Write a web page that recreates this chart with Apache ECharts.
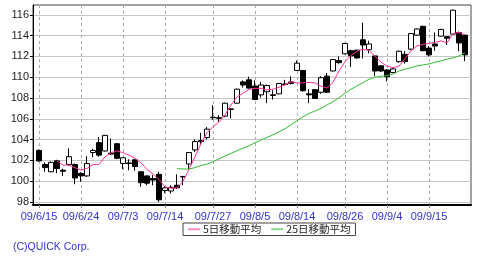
<!DOCTYPE html>
<html>
<head>
<meta charset="utf-8">
<script src="https://cdn.jsdelivr.net/npm/echarts@6/dist/echarts.min.js"></script>
<style>html,body{margin:0;padding:0;background:#fff}#c{width:480px;height:261px}</style>
</head>
<body>
<div id="c"></div>
<script>
const dates = ['09/6/15','09/6/16','09/6/17','09/6/18','09/6/19','09/6/22','09/6/23','09/6/24','09/6/25','09/6/26','09/6/29','09/6/30',
'09/7/1','09/7/2','09/7/3','09/7/6','09/7/7','09/7/8','09/7/9','09/7/10','09/7/13','09/7/14','09/7/15','09/7/16','09/7/17','09/7/21','09/7/22','09/7/23','09/7/24','09/7/27','09/7/28','09/7/29','09/7/30','09/7/31',
'09/8/3','09/8/4','09/8/5','09/8/6','09/8/7','09/8/10','09/8/11','09/8/12','09/8/13','09/8/14','09/8/17','09/8/18','09/8/19','09/8/20','09/8/21','09/8/24','09/8/25','09/8/26','09/8/27','09/8/28','09/8/31',
'09/9/1','09/9/2','09/9/3','09/9/4','09/9/7','09/9/8','09/9/9','09/9/10','09/9/11','09/9/14','09/9/15','09/9/16','09/9/17','09/9/18','09/9/24','09/9/25','09/9/28'];
const openV  = [102.95,101.6,100.9,101.95,101.05,101.6,101.6,100.75,100.5,102.75,103.7,102.9,102.7,103.6,101.7,101.75,102.05,100.9,100.5,100.25,100.65,99.1,99.05,99.6,100.45,101.65,103.0,103.9,104.2,106.15,106.1,106.25,106.95,107.5,109.55,109.75,109.15,108.3,108.6,108.3,108.4,109.35,109.55,110.65,110.65,108.4,108.8,108.55,110.1,110.6,111.6,112.25,112.55,112.6,113.6,112.65,112.05,111.1,110.7,110.45,111.5,112.2,112.7,114.05,114.9,112.8,113.2,113.95,113.9,114.15,114.3,114.05];
const closeV = [101.95,101.3,101.8,101.2,100.95,102.35,100.3,100.5,101.7,102.95,102.5,104.4,102.6,102.2,102.25,101.7,101.4,99.85,99.8,100.1,98.2,99.35,99.4,99.35,100.4,102.75,103.8,103.8,105.0,106.1,106.05,107.5,106.9,108.85,109.25,108.95,107.85,109.25,109.2,108.25,109.4,109.3,109.4,111.35,108.7,108.3,107.95,109.95,108.55,111.7,111.4,113.25,112.05,111.85,113.1,113.2,110.6,110.6,110.05,110.8,112.5,111.5,114.2,114.65,112.55,112.15,113.0,114.6,113.75,116.45,113.3,112.15];
const lowV   = [101.85,100.9,100.85,100.75,100.5,101.5,99.7,99.95,100.4,102.3,102.35,102.85,102.5,102.1,101.15,101.05,101.0,99.45,99.6,99.6,98.0,98.85,98.8,99.25,99.6,101.15,102.8,103.45,104.0,105.9,105.7,106.15,106.05,107.45,109.0,108.9,107.8,108.05,107.5,107.85,108.35,109.2,109.3,110.6,108.6,107.5,107.9,108.4,108.5,110.55,111.3,112.2,111.0,111.8,111.8,112.3,110.1,110.5,109.6,110.4,111.4,111.3,112.6,114.0,112.5,112.0,112.55,113.9,113.1,114.1,112.5,111.55];
const highV  = [103.05,101.8,101.9,102.05,101.2,103.15,101.7,100.85,102.4,103.1,104.25,104.45,104.1,103.65,102.3,102.1,102.1,100.95,100.55,100.6,100.9,99.5,99.6,100.65,100.5,102.8,104.0,104.65,105.2,107.3,106.35,107.55,107.0,108.9,109.7,110.05,109.7,109.55,109.3,108.75,109.45,109.75,110.1,111.6,110.7,108.85,108.85,110.1,110.4,111.75,112.0,113.3,112.65,112.65,115.25,113.5,112.1,111.15,110.75,110.85,112.55,112.5,114.25,114.7,114.95,113.0,114.3,114.65,113.95,116.5,114.4,114.1];
const ma5  = [null,null,null,101.93,101.54,101.54,101.28,101.06,101.22,101.6,101.6,102.34,102.73,102.92,102.73,102.5,102.19,101.75,101.13,100.7,100.15,99.45,99.3,99.35,99.98,101.13,102.34,103.63,104.65,105.23,105.7,106.36,107.33,108.12,108.45,108.84,108.93,108.93,108.77,108.84,109.03,109.25,109.57,109.45,109.45,109.5,109.45,109.15,108.95,109.5,110.6,111.5,112.1,112.5,112.7,112.6,112.0,111.45,111.05,110.92,111.07,111.8,112.55,113.0,113.16,113.25,113.35,113.5,113.3,114.2,114.3,114.1];
const ma25 = [null,null,null,null,null,null,null,null,null,null,null,null,null,null,null,null,null,null,null,null,null,null,null,101.2,101.17,101.15,101.3,101.5,101.64,101.86,102.15,102.41,102.67,102.92,103.18,103.4,103.69,103.95,104.2,104.46,104.75,105.04,105.4,105.8,106.2,106.5,106.75,107.0,107.33,107.64,108.03,108.45,108.84,109.16,109.47,109.8,110.0,110.09,110.15,110.3,110.6,110.76,110.92,111.08,111.18,111.28,111.44,111.57,111.73,111.86,112.05,112.37];
const yTicks = [98,100,102,104,106,108,110,112,114,116];
const xLabels = ['09/6/15','09/6/24','09/7/3','09/7/14','09/7/27','09/8/5','09/8/14','09/8/26','09/9/4','09/9/15'];

const cats = [' '].concat(dates).concat(['  ']);
const candleData = dates.map((d,i)=>[i+1, openV[i], closeV[i], lowV[i], highV[i]]);
const ma5Data = dates.map((d,i)=>[i+1, ma5[i]]).filter(p=>p[1]!=null);
const ma25Data = dates.map((d,i)=>[i+1, ma25[i]]).filter(p=>p[1]!=null);
const showIdx = (idx, val) => xLabels.indexOf(val) >= 0;

const chart = echarts.init(document.getElementById('c'), null, {renderer:'canvas'});
chart.setOption({
  animation: false,
  textStyle: {fontFamily: 'Liberation Sans, Arial, sans-serif'},
  grid: {left: 33, right: 9, top: 5, bottom: 56, show: true, borderColor: '#444', borderWidth: 1},
  xAxis: {
    type: 'category', data: cats, boundaryGap: false,
    axisLine: {lineStyle: {color: '#000', width: 2}},
    axisTick: {show: true, interval: showIdx, length: 3, lineStyle: {color: '#888'}},
    axisLabel: {interval: showIdx, color: '#3333cc', fontSize: 11, margin: 6},
    splitLine: {show: true, interval: showIdx, lineStyle: {color: '#aaa', type: [3,3], width: 1}}
  },
  yAxis: {
    type: 'value', min: 97.7, max: 116.95, scale: true,
    axisLine: {show: true, lineStyle: {color: '#000', width: 1}},
    axisTick: {show: true, customValues: yTicks, length: 3, lineStyle: {color: '#000'}},
    axisLabel: {customValues: yTicks, color: '#222', fontSize: 11, margin: 4},
    splitLine: {show: true, lineStyle: {color: '#c4c4c4', width: 1}}
  },
  legend: {
    left: 183, top: 223, orient: 'horizontal',
    padding: [1, 5, 1, 5], itemGap: 10,
    borderColor: '#444', borderWidth: 1,
    icon: 'rect', itemWidth: 12, itemHeight: 2,
    textStyle: {fontSize: 10.5, color: '#222', fontFamily: 'Noto Sans CJK JP, sans-serif', padding: [0,0,0,-2]},
    data: [{name: '5日移動平均', itemStyle: {color: '#ff88c4'}}, {name: '25日移動平均', itemStyle: {color: '#88d888'}}]
  },
  graphic: [{type: 'text', left: 13, top: 242, style: {text: '(C)QUICK Corp.', fill: '#3333cc', font: '10.5px Liberation Sans, Arial, sans-serif'}}],
  series: [
    {
      type: 'candlestick', name: 'price', data: candleData, barWidth: 5,
      dimensions: ['x','open','close','lowest','highest'],
      encode: {x: 0, y: [1,2,3,4]},
      itemStyle: {color: '#ffffff', color0: '#000000', borderColor: '#000000', borderColor0: '#000000', borderWidth: 1}
    },
    {type: 'line', name: '5日移動平均', data: ma5Data, symbol: 'none', lineStyle: {color: '#ff3399', width: 1}, itemStyle: {color: '#ff3399'}},
    {type: 'line', name: '25日移動平均', data: ma25Data, symbol: 'none', lineStyle: {color: '#33bb33', width: 1}, itemStyle: {color: '#33bb33'}}
  ]
});
</script>
</body>
</html>
